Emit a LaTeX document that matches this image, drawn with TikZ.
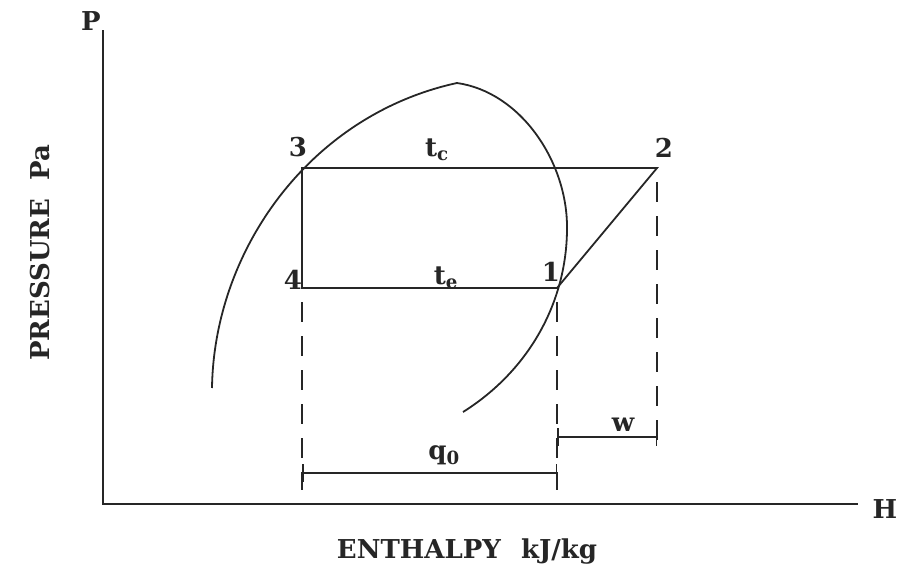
\documentclass[tikz,border=0pt]{standalone}
\usepackage{fontspec}
\setmainfont{DejaVu Serif}
\usetikzlibrary{arrows.meta}

\begin{document}
\begin{tikzpicture}[x=1pt,y=-1pt,line width=1.8pt,draw=black!85,
  lbl/.style={font=\fontsize{26}{30}\selectfont\bfseries,inner sep=0pt,text=black!85},
  guide/.style={line width=1.5pt,dash pattern=on 20pt off 14pt,dash phase=20pt},
  dim/.style={line width=1.5pt,{Bar[width=18pt,line width=1.5pt]}-{Bar[width=18pt,line width=1.5pt]}}]
  \useasboundingbox (0,0) rectangle (903,570);
  % axes
  \coordinate (o) at (103,504);
  \coordinate (ytop) at (103,30);
  \coordinate (xend) at (858,504);
  \draw (ytop) -- (o) -- (xend);
  \node[lbl] (pl) at (91,21) {P};
  \node[lbl] (hl) at (885,509) {H};
  \node[lbl,rotate=90] (pres) at (40,253) {PRESSURE~~Pa};
  \node[lbl] (enth) at (467,552) {ENTHALPY\hspace{20pt}kJ/kg};
  % saturation dome
  \draw (212,388) .. controls (214,250) and (310,115) .. (457,83);
  \draw (457,83) .. controls (520,92) and (566,160) .. (567,225)
    .. controls (568,300) and (530,370) .. (463,412);
  % cycle
  \coordinate (s1) at (557,288);
  \coordinate (s2) at (657,168);
  \coordinate (s3) at (302,168);
  \coordinate (s4) at (302,288);
  \draw (s3) -- (s2) -- (s1) -- (s4) -- cycle;
  \node[lbl] (n1) at (551,272) {1};
  \node[lbl] (n2) at (664,148) {2};
  \node[lbl] (n3) at (298,147) {3};
  \node[lbl] (n4) at (293,280) {4};
  \node[lbl] (tc) at (437,150) {t\textsubscript{c}};
  \node[lbl] (te) at (446,278) {t\textsubscript{e}};
  % projections
  \coordinate (b4) at (302,490);
  \coordinate (b1) at (557,490);
  \coordinate (b2) at (657,445);
  \foreach \s/\b in {s4/b4, s1/b1, s2/b2}
    \draw[guide] (\s) -- (\b);
  \coordinate (q4) at (302,473);
  \coordinate (q1) at (557,473);
  \coordinate (w1) at (557,437);
  \coordinate (w2) at (657,437);
  \draw[dim] (q4) -- (q1);
  \draw[dim] (w1) -- (w2);
  \node[lbl] (ql) at (444,455) {q\textsubscript{0}};
  \node[lbl] (wl) at (623,425) {w};
\end{tikzpicture}
\end{document}
